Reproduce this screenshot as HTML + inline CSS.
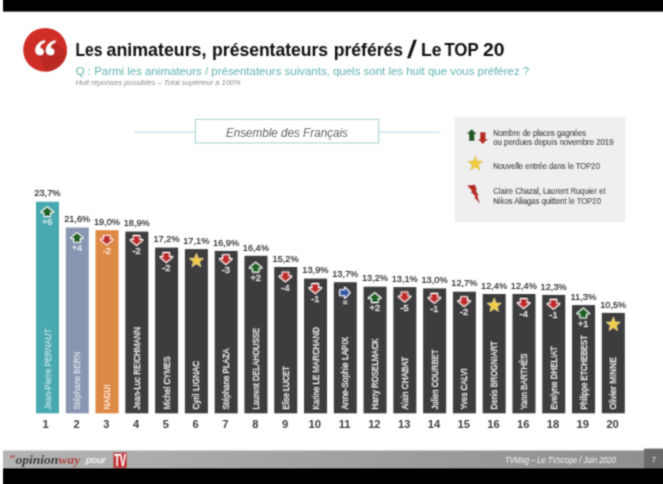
<!DOCTYPE html>
<html lang="fr"><head><meta charset="utf-8"><title>Les animateurs, présentateurs préférés / Le TOP 20</title>
<style>html,body{margin:0;padding:0;background:#fff;}body{width:663px;height:484px;overflow:hidden;}svg{display:block;}text{font-family:"Liberation Sans",sans-serif;}.serif{font-family:"Liberation Serif",serif;}</style>
</head><body>
<svg width="663" height="484" viewBox="0 0 663 484">
<defs><clipPath id="cc"><circle cx="45.1" cy="49.8" r="21.9"/></clipPath>
<linearGradient id="fg" gradientUnits="userSpaceOnUse" x1="3" x2="663" y1="0" y2="0"><stop offset="0" stop-color="#b4b4b4"/><stop offset="1" stop-color="#8e8e8e"/></linearGradient>
<filter id="soft" filterUnits="userSpaceOnUse" x="-20" y="-20" width="720" height="540"><feConvolveMatrix order="3" kernelMatrix="1 2 1 2 8 2 1 2 1" divisor="20" edgeMode="duplicate" preserveAlpha="false"/></filter></defs>
<rect x="0" y="0" width="663" height="484" fill="#ffffff"/>
<g filter="url(#soft)">
<rect x="3" y="-10" width="680" height="21.6" fill="#000"/>
<rect x="3" y="450.5" width="680" height="17.6" fill="url(#fg)"/>
<rect x="644" y="448.6" width="39" height="19.5" fill="#6a6a6a"/>
<rect x="3" y="468" width="680" height="36" fill="#000"/>
<circle cx="45.1" cy="49.8" r="21.9" fill="#cf2f27"/>
<g clip-path="url(#cc)"><polygon points="36,52 55,41 90,76 60,96" fill="#bb2921"/></g>
<text class="serif" x="44.9" y="73.4" font-size="48" font-weight="bold" fill="#fff" text-anchor="middle">“</text>
<text font-size="17.9" font-weight="bold" fill="#0a0a0a"><tspan x="75.50" y="55.6" textLength="27.00" lengthAdjust="spacingAndGlyphs">Les</tspan> <tspan x="106.60" y="55.6" textLength="99.80" lengthAdjust="spacingAndGlyphs">animateurs,</tspan> <tspan x="212.10" y="55.6" textLength="116.00" lengthAdjust="spacingAndGlyphs">présentateurs</tspan> <tspan x="333.80" y="55.6" textLength="69.30" lengthAdjust="spacingAndGlyphs">préférés</tspan> <tspan x="407.50" y="58.2" font-size="23" font-weight="normal" stroke="#0a0a0a" stroke-width="0.5" textLength="8.90" lengthAdjust="spacingAndGlyphs">/</tspan> <tspan x="421.10" y="55.6" textLength="20.50" lengthAdjust="spacingAndGlyphs">Le</tspan> <tspan x="444.40" y="55.6" textLength="33.90" lengthAdjust="spacingAndGlyphs">TOP</tspan> <tspan x="483.00" y="55.6" textLength="21.50" lengthAdjust="spacingAndGlyphs">20</tspan></text>
<text x="75.7" y="75.1" font-size="10.3" fill="#62b3af" textLength="453.5" lengthAdjust="spacingAndGlyphs">Q : Parmi les animateurs / présentateurs suivants, quels sont les huit que vous préférez ?</text>
<text x="75.7" y="84.5" font-size="6.6" font-style="italic" fill="#8c8c8c" textLength="165" lengthAdjust="spacingAndGlyphs">Huit réponses possibles – Total supérieur à 100%</text>
<line x1="133.8" y1="132.1" x2="440.5" y2="132.1" stroke="#b5d8da" stroke-width="1"/>
<rect x="195.4" y="119.4" width="183.2" height="23.6" fill="#fff" stroke="#9fcdd0" stroke-width="1"/>
<text x="225.9" y="136.6" font-size="12" font-style="italic" fill="#444" textLength="122" lengthAdjust="spacingAndGlyphs">Ensemble des Français</text>
<rect x="454.7" y="117" width="170.7" height="105" fill="#efefef"/>
<polygon points="471.70,128.90 476.80,133.90 474.45,133.90 474.45,141.10 468.95,141.10 468.95,133.90 466.60,133.90" fill="#1f5d27"/>
<polygon points="482.80,144.00 488.05,139.12 485.58,139.12 485.58,132.10 480.02,132.10 480.02,139.12 477.55,139.12" fill="#b92a22"/>
<polygon points="475.30,155.70 477.30,161.05 483.00,161.30 478.54,164.85 480.06,170.35 475.30,167.20 470.54,170.35 472.06,164.85 467.60,161.30 473.30,161.05" fill="#f3cb3c" stroke="#d8c257" stroke-width="0.6" stroke-linejoin="round"/>
<polygon points="467.1,185.4 474.9,184.5 477.0,189.5 476.0,190.1 478.6,195.4 477.5,196.0 480.1,203.4 473.9,197.5 475.5,196.6 470.5,191.9 472.1,191.3" fill="#b72b24"/>
<text x="493.3" y="135.6" font-size="8.2" fill="#2e2e2e" stroke="#2e2e2e" stroke-width="0.12" textLength="92.8" lengthAdjust="spacingAndGlyphs">Nombre de places gagnées</text>
<text x="493.3" y="145.2" font-size="8.2" fill="#2e2e2e" stroke="#2e2e2e" stroke-width="0.12" textLength="120.2" lengthAdjust="spacingAndGlyphs">ou perdues depuis novembre 2019</text>
<text x="493.3" y="169.4" font-size="8.2" fill="#2e2e2e" stroke="#2e2e2e" stroke-width="0.12" textLength="106.6" lengthAdjust="spacingAndGlyphs">Nouvelle entrée dans le TOP20</text>
<text x="493.3" y="193.5" font-size="8.2" fill="#2e2e2e" stroke="#2e2e2e" stroke-width="0.12" textLength="112.2" lengthAdjust="spacingAndGlyphs">Claire Chazal, Laurent Ruquier et</text>
<text x="493.3" y="204.3" font-size="8.2" fill="#2e2e2e" stroke="#2e2e2e" stroke-width="0.12" textLength="107.6" lengthAdjust="spacingAndGlyphs">Nikos Aliagas quittent le TOP20</text>
<rect x="36.00" y="201.70" width="23.00" height="211.60" fill="#4aa9b1"/>
<text x="47.40" y="196.40" font-size="9.5" fill="#1c1c1c" stroke="#1c1c1c" stroke-width="0.16" text-anchor="middle" textLength="26.1" lengthAdjust="spacingAndGlyphs">23,7%</text>
<polygon points="47.20,207.20 53.00,212.13 50.10,212.13 50.10,216.00 44.30,216.00 44.30,212.13 41.40,212.13" fill="#1b6226" stroke="#f4fff4" stroke-width="2.10" stroke-opacity="1.00" stroke-linejoin="round" paint-order="stroke"/>
<text x="47.20" y="225.30" font-size="9.2" fill="#d8f1f3" stroke="#d8f1f3" stroke-width="0.16" text-anchor="middle">+6</text>
<text transform="translate(50.55,409.50) rotate(-90)" font-size="9.0" fill="#b9e5e8" stroke="#b9e5e8" stroke-width="0.16" textLength="80.8" lengthAdjust="spacingAndGlyphs">Jean-Pierre PERNAUT</text>
<text x="45.60" y="427.9" font-size="11.2" font-weight="bold" fill="#3f3f3f" text-anchor="middle">1</text>
<rect x="65.78" y="227.50" width="23.00" height="185.80" fill="#8996b2"/>
<text x="77.18" y="222.20" font-size="9.5" fill="#1c1c1c" stroke="#1c1c1c" stroke-width="0.16" text-anchor="middle" textLength="26.1" lengthAdjust="spacingAndGlyphs">21,6%</text>
<polygon points="76.98,233.00 82.78,237.93 79.88,237.93 79.88,241.80 74.08,241.80 74.08,237.93 71.18,237.93" fill="#1b6226" stroke="#f4fff4" stroke-width="2.10" stroke-opacity="1.00" stroke-linejoin="round" paint-order="stroke"/>
<text x="76.98" y="251.10" font-size="9.2" fill="#eef1f6" stroke="#eef1f6" stroke-width="0.16" text-anchor="middle">+4</text>
<text transform="translate(80.33,409.50) rotate(-90)" font-size="9.0" fill="#dde2ec" stroke="#dde2ec" stroke-width="0.16" textLength="57.7" lengthAdjust="spacingAndGlyphs">Stéphane BERN</text>
<text x="76.58" y="427.9" font-size="11.2" font-weight="bold" fill="#3f3f3f" text-anchor="middle">2</text>
<rect x="95.56" y="230.20" width="23.00" height="183.10" fill="#de8844"/>
<text x="106.96" y="224.90" font-size="9.5" fill="#1c1c1c" stroke="#1c1c1c" stroke-width="0.16" text-anchor="middle" textLength="26.1" lengthAdjust="spacingAndGlyphs">19,0%</text>
<polygon points="106.76,244.50 112.56,239.57 109.66,239.57 109.66,235.70 103.86,235.70 103.86,239.57 100.96,239.57" fill="#bf2a2a" stroke="#fff6f4" stroke-width="2.10" stroke-opacity="1.00" stroke-linejoin="round" paint-order="stroke"/>
<text x="106.76" y="253.80" font-size="9.2" fill="#fff0dc" stroke="#fff0dc" stroke-width="0.16" text-anchor="middle">-2</text>
<text transform="translate(110.11,409.50) rotate(-90)" font-size="9.0" fill="#fff0dc" stroke="#fff0dc" stroke-width="0.16" textLength="25.0" lengthAdjust="spacingAndGlyphs">NAGUI</text>
<text x="106.36" y="427.9" font-size="11.2" font-weight="bold" fill="#3f3f3f" text-anchor="middle">3</text>
<rect x="125.34" y="231.60" width="23.00" height="181.70" fill="#3d3d3f"/>
<text x="136.74" y="226.30" font-size="9.5" fill="#1c1c1c" stroke="#1c1c1c" stroke-width="0.16" text-anchor="middle" textLength="26.1" lengthAdjust="spacingAndGlyphs">18,9%</text>
<polygon points="136.54,244.90 142.34,239.97 139.44,239.97 139.44,236.10 133.64,236.10 133.64,239.97 130.74,239.97" fill="#bf2a2a" stroke="#fff6f4" stroke-width="2.10" stroke-opacity="1.00" stroke-linejoin="round" paint-order="stroke"/>
<text x="136.54" y="254.20" font-size="9.2" fill="#ececec" stroke="#ececec" stroke-width="0.16" text-anchor="middle">-2</text>
<text transform="translate(139.89,409.50) rotate(-90)" font-size="9.0" fill="#f1f1f1" stroke="#f1f1f1" stroke-width="0.16" textLength="82.5" lengthAdjust="spacingAndGlyphs">Jean-Luc REICHMANN</text>
<text x="136.14" y="427.9" font-size="11.2" font-weight="bold" fill="#3f3f3f" text-anchor="middle">4</text>
<rect x="155.12" y="247.60" width="23.00" height="165.70" fill="#3d3d3f"/>
<text x="166.52" y="242.30" font-size="9.5" fill="#1c1c1c" stroke="#1c1c1c" stroke-width="0.16" text-anchor="middle" textLength="26.1" lengthAdjust="spacingAndGlyphs">17,2%</text>
<polygon points="166.32,261.90 172.12,256.97 169.22,256.97 169.22,253.10 163.42,253.10 163.42,256.97 160.52,256.97" fill="#bf2a2a" stroke="#fff6f4" stroke-width="2.10" stroke-opacity="1.00" stroke-linejoin="round" paint-order="stroke"/>
<text x="166.32" y="271.20" font-size="9.2" fill="#ececec" stroke="#ececec" stroke-width="0.16" text-anchor="middle">-2</text>
<text transform="translate(169.67,409.50) rotate(-90)" font-size="9.0" fill="#f1f1f1" stroke="#f1f1f1" stroke-width="0.16" textLength="53.1" lengthAdjust="spacingAndGlyphs">Michel CYMES</text>
<text x="165.92" y="427.9" font-size="11.2" font-weight="bold" fill="#3f3f3f" text-anchor="middle">5</text>
<rect x="184.90" y="249.10" width="23.00" height="164.20" fill="#3d3d3f"/>
<text x="196.30" y="243.80" font-size="9.5" fill="#1c1c1c" stroke="#1c1c1c" stroke-width="0.16" text-anchor="middle" textLength="26.1" lengthAdjust="spacingAndGlyphs">17,1%</text>
<polygon points="196.40,253.40 198.20,258.22 203.34,258.44 199.32,261.65 200.69,266.61 196.40,263.77 192.11,266.61 193.48,261.65 189.46,258.44 194.60,258.22" fill="#f2cd48" stroke="#f3e3a0" stroke-width="0.6" stroke-linejoin="round"/>
<text transform="translate(199.45,409.50) rotate(-90)" font-size="9.0" fill="#f1f1f1" stroke="#f1f1f1" stroke-width="0.16" textLength="48.5" lengthAdjust="spacingAndGlyphs">Cyril LIGNAC</text>
<text x="195.70" y="427.9" font-size="11.2" font-weight="bold" fill="#3f3f3f" text-anchor="middle">6</text>
<rect x="214.68" y="250.90" width="23.00" height="162.40" fill="#3d3d3f"/>
<text x="226.08" y="245.60" font-size="9.5" fill="#1c1c1c" stroke="#1c1c1c" stroke-width="0.16" text-anchor="middle" textLength="26.1" lengthAdjust="spacingAndGlyphs">16,9%</text>
<polygon points="225.88,264.00 231.68,259.07 228.78,259.07 228.78,255.20 222.98,255.20 222.98,259.07 220.08,259.07" fill="#bf2a2a" stroke="#fff6f4" stroke-width="2.10" stroke-opacity="1.00" stroke-linejoin="round" paint-order="stroke"/>
<text x="225.88" y="273.30" font-size="9.2" fill="#ececec" stroke="#ececec" stroke-width="0.16" text-anchor="middle">-3</text>
<text transform="translate(229.23,409.50) rotate(-90)" font-size="9.0" fill="#f1f1f1" stroke="#f1f1f1" stroke-width="0.16" textLength="61.0" lengthAdjust="spacingAndGlyphs">Stéphane PLAZA</text>
<text x="225.48" y="427.9" font-size="11.2" font-weight="bold" fill="#3f3f3f" text-anchor="middle">7</text>
<rect x="244.46" y="255.80" width="23.00" height="157.50" fill="#3d3d3f"/>
<text x="255.86" y="250.50" font-size="9.5" fill="#1c1c1c" stroke="#1c1c1c" stroke-width="0.16" text-anchor="middle" textLength="26.1" lengthAdjust="spacingAndGlyphs">16,4%</text>
<polygon points="255.66,262.80 261.46,267.73 258.56,267.73 258.56,271.60 252.76,271.60 252.76,267.73 249.86,267.73" fill="#1b6226" stroke="#f4fff4" stroke-width="2.10" stroke-opacity="1.00" stroke-linejoin="round" paint-order="stroke"/>
<text x="255.66" y="280.90" font-size="9.2" fill="#ececec" stroke="#ececec" stroke-width="0.16" text-anchor="middle">+2</text>
<text transform="translate(259.01,409.50) rotate(-90)" font-size="9.0" fill="#f1f1f1" stroke="#f1f1f1" stroke-width="0.16" textLength="81.4" lengthAdjust="spacingAndGlyphs">Laurent DELAHOUSSE</text>
<text x="255.26" y="427.9" font-size="11.2" font-weight="bold" fill="#3f3f3f" text-anchor="middle">8</text>
<rect x="274.24" y="267.00" width="23.00" height="146.30" fill="#3d3d3f"/>
<text x="285.64" y="261.70" font-size="9.5" fill="#1c1c1c" stroke="#1c1c1c" stroke-width="0.16" text-anchor="middle" textLength="26.1" lengthAdjust="spacingAndGlyphs">15,2%</text>
<polygon points="285.44,281.30 291.24,276.37 288.34,276.37 288.34,272.50 282.54,272.50 282.54,276.37 279.64,276.37" fill="#bf2a2a" stroke="#fff6f4" stroke-width="2.10" stroke-opacity="1.00" stroke-linejoin="round" paint-order="stroke"/>
<text x="285.44" y="290.60" font-size="9.2" fill="#ececec" stroke="#ececec" stroke-width="0.16" text-anchor="middle">-4</text>
<text transform="translate(288.79,409.50) rotate(-90)" font-size="9.0" fill="#f1f1f1" stroke="#f1f1f1" stroke-width="0.16" textLength="43.3" lengthAdjust="spacingAndGlyphs">Elise LUCET</text>
<text x="285.04" y="427.9" font-size="11.2" font-weight="bold" fill="#3f3f3f" text-anchor="middle">9</text>
<rect x="304.02" y="278.60" width="23.00" height="134.70" fill="#3d3d3f"/>
<text x="315.42" y="273.30" font-size="9.5" fill="#1c1c1c" stroke="#1c1c1c" stroke-width="0.16" text-anchor="middle" textLength="26.1" lengthAdjust="spacingAndGlyphs">13,9%</text>
<polygon points="315.22,292.90 321.02,287.97 318.12,287.97 318.12,284.10 312.32,284.10 312.32,287.97 309.42,287.97" fill="#bf2a2a" stroke="#fff6f4" stroke-width="2.10" stroke-opacity="1.00" stroke-linejoin="round" paint-order="stroke"/>
<text x="315.22" y="302.20" font-size="9.2" fill="#ececec" stroke="#ececec" stroke-width="0.16" text-anchor="middle">-1</text>
<text transform="translate(318.57,409.50) rotate(-90)" font-size="9.0" fill="#f1f1f1" stroke="#f1f1f1" stroke-width="0.16" textLength="82.5" lengthAdjust="spacingAndGlyphs">Karine LE MARCHAND</text>
<text x="314.82" y="427.9" font-size="11.2" font-weight="bold" fill="#3f3f3f" text-anchor="middle">10</text>
<rect x="333.80" y="282.20" width="23.00" height="131.10" fill="#3d3d3f"/>
<text x="345.20" y="276.90" font-size="9.5" fill="#1c1c1c" stroke="#1c1c1c" stroke-width="0.16" text-anchor="middle" textLength="26.1" lengthAdjust="spacingAndGlyphs">13,7%</text>
<polygon points="349.60,292.80 344.90,287.80 344.90,290.30 340.20,290.30 340.20,295.30 344.90,295.30 344.90,297.80" fill="#3158a6" stroke="#f2f6ff" stroke-width="2.10" stroke-opacity="1.00" stroke-linejoin="round" paint-order="stroke"/>
<text x="345.10" y="305.40" font-size="7.6" fill="#d2d2d2" stroke="#d2d2d2" stroke-width="0.3" text-anchor="middle">=</text>
<text transform="translate(348.35,409.50) rotate(-90)" font-size="9.0" fill="#f1f1f1" stroke="#f1f1f1" stroke-width="0.16" textLength="72.5" lengthAdjust="spacingAndGlyphs">Anne-Sophie LAPIX</text>
<text x="344.60" y="427.9" font-size="11.2" font-weight="bold" fill="#3f3f3f" text-anchor="middle">11</text>
<rect x="363.58" y="286.70" width="23.00" height="126.60" fill="#3d3d3f"/>
<text x="374.98" y="281.40" font-size="9.5" fill="#1c1c1c" stroke="#1c1c1c" stroke-width="0.16" text-anchor="middle" textLength="26.1" lengthAdjust="spacingAndGlyphs">13,2%</text>
<polygon points="374.78,293.20 380.58,298.13 377.68,298.13 377.68,302.00 371.88,302.00 371.88,298.13 368.98,298.13" fill="#1b6226" stroke="#f4fff4" stroke-width="2.10" stroke-opacity="1.00" stroke-linejoin="round" paint-order="stroke"/>
<text x="374.78" y="311.30" font-size="9.2" fill="#ececec" stroke="#ececec" stroke-width="0.16" text-anchor="middle">+2</text>
<text transform="translate(378.13,409.50) rotate(-90)" font-size="9.0" fill="#f1f1f1" stroke="#f1f1f1" stroke-width="0.16" textLength="71.1" lengthAdjust="spacingAndGlyphs">Harry ROSELMACK</text>
<text x="374.38" y="427.9" font-size="11.2" font-weight="bold" fill="#3f3f3f" text-anchor="middle">12</text>
<rect x="393.36" y="287.10" width="23.00" height="126.20" fill="#3d3d3f"/>
<text x="404.76" y="281.80" font-size="9.5" fill="#1c1c1c" stroke="#1c1c1c" stroke-width="0.16" text-anchor="middle" textLength="26.1" lengthAdjust="spacingAndGlyphs">13,1%</text>
<polygon points="404.56,301.40 410.36,296.47 407.46,296.47 407.46,292.60 401.66,292.60 401.66,296.47 398.76,296.47" fill="#bf2a2a" stroke="#fff6f4" stroke-width="2.10" stroke-opacity="1.00" stroke-linejoin="round" paint-order="stroke"/>
<text x="404.56" y="310.70" font-size="9.2" fill="#ececec" stroke="#ececec" stroke-width="0.16" text-anchor="middle">-5</text>
<text transform="translate(407.91,409.50) rotate(-90)" font-size="9.0" fill="#f1f1f1" stroke="#f1f1f1" stroke-width="0.16" textLength="52.6" lengthAdjust="spacingAndGlyphs">Alain CHABAT</text>
<text x="404.16" y="427.9" font-size="11.2" font-weight="bold" fill="#3f3f3f" text-anchor="middle">13</text>
<rect x="423.14" y="288.40" width="23.00" height="124.90" fill="#3d3d3f"/>
<text x="434.54" y="283.10" font-size="9.5" fill="#1c1c1c" stroke="#1c1c1c" stroke-width="0.16" text-anchor="middle" textLength="26.1" lengthAdjust="spacingAndGlyphs">13,0%</text>
<polygon points="434.34,302.70 440.14,297.77 437.24,297.77 437.24,293.90 431.44,293.90 431.44,297.77 428.54,297.77" fill="#bf2a2a" stroke="#fff6f4" stroke-width="2.10" stroke-opacity="1.00" stroke-linejoin="round" paint-order="stroke"/>
<text x="434.34" y="312.00" font-size="9.2" fill="#ececec" stroke="#ececec" stroke-width="0.16" text-anchor="middle">-1</text>
<text transform="translate(437.69,409.50) rotate(-90)" font-size="9.0" fill="#f1f1f1" stroke="#f1f1f1" stroke-width="0.16" textLength="59.9" lengthAdjust="spacingAndGlyphs">Julien COURBET</text>
<text x="433.94" y="427.9" font-size="11.2" font-weight="bold" fill="#3f3f3f" text-anchor="middle">14</text>
<rect x="452.92" y="291.70" width="23.00" height="121.60" fill="#3d3d3f"/>
<text x="464.32" y="286.40" font-size="9.5" fill="#1c1c1c" stroke="#1c1c1c" stroke-width="0.16" text-anchor="middle" textLength="26.1" lengthAdjust="spacingAndGlyphs">12,7%</text>
<polygon points="464.12,306.00 469.92,301.07 467.02,301.07 467.02,297.20 461.22,297.20 461.22,301.07 458.32,301.07" fill="#bf2a2a" stroke="#fff6f4" stroke-width="2.10" stroke-opacity="1.00" stroke-linejoin="round" paint-order="stroke"/>
<text x="464.12" y="315.30" font-size="9.2" fill="#ececec" stroke="#ececec" stroke-width="0.16" text-anchor="middle">-2</text>
<text transform="translate(467.47,409.50) rotate(-90)" font-size="9.0" fill="#f1f1f1" stroke="#f1f1f1" stroke-width="0.16" textLength="40.8" lengthAdjust="spacingAndGlyphs">Yves CALVI</text>
<text x="463.72" y="427.9" font-size="11.2" font-weight="bold" fill="#3f3f3f" text-anchor="middle">15</text>
<rect x="482.70" y="294.00" width="23.00" height="119.30" fill="#3d3d3f"/>
<text x="494.10" y="288.70" font-size="9.5" fill="#1c1c1c" stroke="#1c1c1c" stroke-width="0.16" text-anchor="middle" textLength="26.1" lengthAdjust="spacingAndGlyphs">12,4%</text>
<polygon points="494.20,298.30 496.00,303.12 501.14,303.34 497.12,306.55 498.49,311.51 494.20,308.67 489.91,311.51 491.28,306.55 487.26,303.34 492.40,303.12" fill="#f2cd48" stroke="#f3e3a0" stroke-width="0.6" stroke-linejoin="round"/>
<text transform="translate(497.25,409.50) rotate(-90)" font-size="9.0" fill="#f1f1f1" stroke="#f1f1f1" stroke-width="0.16" textLength="68.4" lengthAdjust="spacingAndGlyphs">Denis BROGNIART</text>
<text x="493.50" y="427.9" font-size="11.2" font-weight="bold" fill="#3f3f3f" text-anchor="middle">16</text>
<rect x="512.48" y="294.00" width="23.00" height="119.30" fill="#3d3d3f"/>
<text x="523.88" y="288.70" font-size="9.5" fill="#1c1c1c" stroke="#1c1c1c" stroke-width="0.16" text-anchor="middle" textLength="26.1" lengthAdjust="spacingAndGlyphs">12,4%</text>
<polygon points="523.68,307.90 529.48,302.97 526.58,302.97 526.58,299.10 520.78,299.10 520.78,302.97 517.88,302.97" fill="#bf2a2a" stroke="#fff6f4" stroke-width="2.10" stroke-opacity="1.00" stroke-linejoin="round" paint-order="stroke"/>
<text x="523.68" y="317.20" font-size="9.2" fill="#ececec" stroke="#ececec" stroke-width="0.16" text-anchor="middle">-4</text>
<text transform="translate(527.03,409.50) rotate(-90)" font-size="9.0" fill="#f1f1f1" stroke="#f1f1f1" stroke-width="0.16" textLength="55.8" lengthAdjust="spacingAndGlyphs">Yann BARTHÈS</text>
<text x="523.28" y="427.9" font-size="11.2" font-weight="bold" fill="#3f3f3f" text-anchor="middle">16</text>
<rect x="542.26" y="294.90" width="23.00" height="118.40" fill="#3d3d3f"/>
<text x="553.66" y="289.60" font-size="9.5" fill="#1c1c1c" stroke="#1c1c1c" stroke-width="0.16" text-anchor="middle" textLength="26.1" lengthAdjust="spacingAndGlyphs">12,3%</text>
<polygon points="553.46,308.70 559.26,303.77 556.36,303.77 556.36,299.90 550.56,299.90 550.56,303.77 547.66,303.77" fill="#bf2a2a" stroke="#fff6f4" stroke-width="2.10" stroke-opacity="1.00" stroke-linejoin="round" paint-order="stroke"/>
<text x="553.46" y="318.00" font-size="9.2" fill="#ececec" stroke="#ececec" stroke-width="0.16" text-anchor="middle">-1</text>
<text transform="translate(556.81,409.50) rotate(-90)" font-size="9.0" fill="#f1f1f1" stroke="#f1f1f1" stroke-width="0.16" textLength="63.1" lengthAdjust="spacingAndGlyphs">Evelyne DHELIAT</text>
<text x="553.06" y="427.9" font-size="11.2" font-weight="bold" fill="#3f3f3f" text-anchor="middle">18</text>
<rect x="572.04" y="305.10" width="23.00" height="108.20" fill="#3d3d3f"/>
<text x="583.44" y="299.80" font-size="9.5" fill="#1c1c1c" stroke="#1c1c1c" stroke-width="0.16" text-anchor="middle" textLength="26.1" lengthAdjust="spacingAndGlyphs">11,3%</text>
<polygon points="583.24,308.60 589.04,313.53 586.14,313.53 586.14,317.40 580.34,317.40 580.34,313.53 577.44,313.53" fill="#1b6226" stroke="#f4fff4" stroke-width="2.10" stroke-opacity="1.00" stroke-linejoin="round" paint-order="stroke"/>
<text x="583.24" y="326.70" font-size="9.2" fill="#ececec" stroke="#ececec" stroke-width="0.16" text-anchor="middle">+1</text>
<text transform="translate(586.59,409.50) rotate(-90)" font-size="9.0" fill="#f1f1f1" stroke="#f1f1f1" stroke-width="0.16" textLength="74.2" lengthAdjust="spacingAndGlyphs">Philippe ETCHEBEST</text>
<text x="582.84" y="427.9" font-size="11.2" font-weight="bold" fill="#3f3f3f" text-anchor="middle">19</text>
<rect x="601.82" y="312.90" width="23.00" height="100.40" fill="#3d3d3f"/>
<text x="613.22" y="307.60" font-size="9.5" fill="#1c1c1c" stroke="#1c1c1c" stroke-width="0.16" text-anchor="middle" textLength="26.1" lengthAdjust="spacingAndGlyphs">10,5%</text>
<polygon points="613.32,317.20 615.12,322.02 620.26,322.24 616.24,325.45 617.61,330.41 613.32,327.57 609.03,330.41 610.40,325.45 606.38,322.24 611.52,322.02" fill="#f2cd48" stroke="#f3e3a0" stroke-width="0.6" stroke-linejoin="round"/>
<text transform="translate(616.37,409.50) rotate(-90)" font-size="9.0" fill="#f1f1f1" stroke="#f1f1f1" stroke-width="0.16" textLength="52.2" lengthAdjust="spacingAndGlyphs">Olivier MINNE</text>
<text x="612.62" y="427.9" font-size="11.2" font-weight="bold" fill="#3f3f3f" text-anchor="middle">20</text>
<text class="serif" x="9.8" y="462.2" font-size="11" font-weight="bold" fill="#b5332f">“</text>
<text class="serif" x="15.4" y="463.6" font-size="12.4" font-weight="bold" font-style="italic" fill="#262626" textLength="64.8" lengthAdjust="spacingAndGlyphs">opinion<tspan fill="#b13633">way</tspan></text>
<text x="86" y="462.8" font-size="8.8" font-style="italic" fill="#f8f8f8" stroke="#f8f8f8" stroke-width="0.15" textLength="19.8" lengthAdjust="spacingAndGlyphs">pour</text>
<rect x="113.4" y="452.6" width="13.4" height="15" fill="#c4262b"/>
<text transform="translate(120.1,466.4) scale(0.56,1)" font-size="16.6" font-weight="bold" fill="#fff" text-anchor="middle">TV</text>
<text x="505" y="462.6" font-size="8.4" font-style="italic" fill="#efefef" textLength="110.8" lengthAdjust="spacingAndGlyphs">TVMag – Le TVscope / Juin 2020</text>
<text x="654" y="462.2" font-size="7" fill="#e6e6e6" text-anchor="middle">7</text>
</g>
</svg>
</body></html>
